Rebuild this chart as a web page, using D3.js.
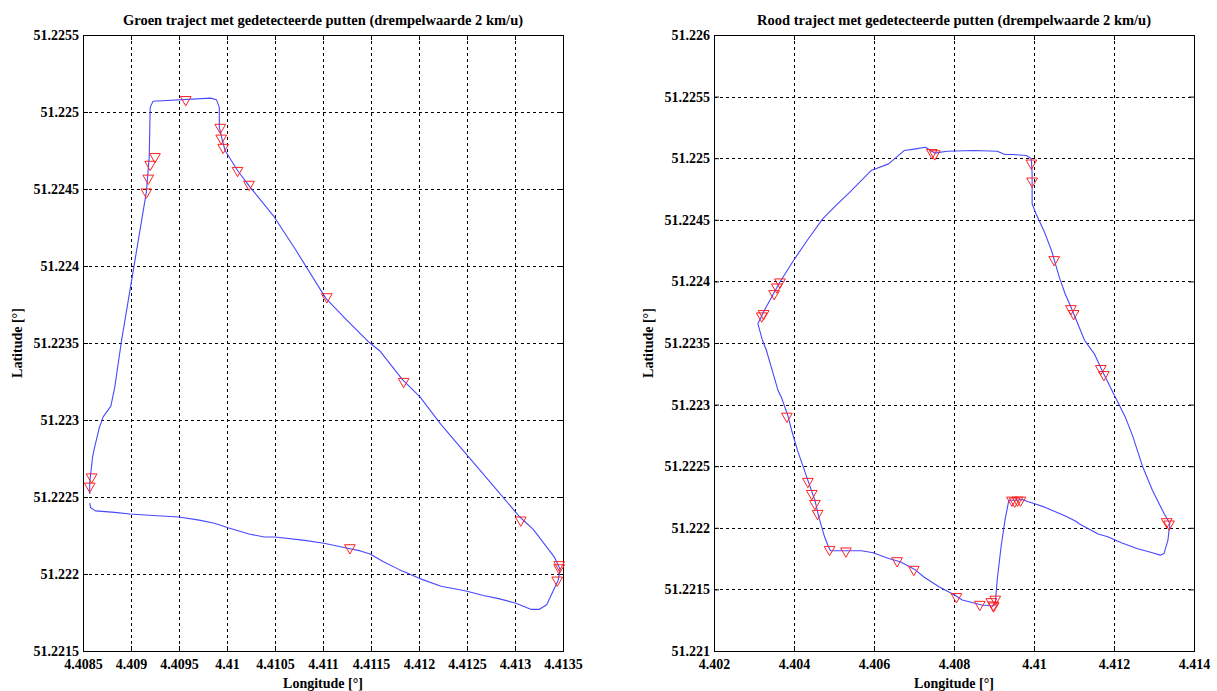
<!DOCTYPE html>
<html><head><meta charset="utf-8">
<script src="https://cdn.jsdelivr.net/npm/d3@7"></script>
<style>
html,body{margin:0;padding:0;background:#fff;}
svg{display:block;}
text{font-family:"Liberation Serif","Times New Roman",serif;font-weight:bold;fill:#000;}
</style></head>
<body>
<svg id="chart" width="1217" height="691"></svg>
<script>
// ---------- DATA ----------
const groenTitle = "Groen traject met gedetecteerde putten (drempelwaarde 2 km/u)";
const roodTitle = "Rood traject met gedetecteerde putten (drempelwaarde 2 km/u)";
const xLabel = "Longitude [°]";
const yLabel = "Latitude [°]";

const groenXTicks = [4.4085, 4.409, 4.4095, 4.41, 4.4105, 4.411, 4.4115, 4.412, 4.4125, 4.413, 4.4135];
const groenYTicks = [51.2215, 51.222, 51.2225, 51.223, 51.2235, 51.224, 51.2245, 51.225, 51.2255];
const roodXTicks = [4.402, 4.404, 4.406, 4.408, 4.41, 4.412, 4.414];
const roodYTicks = [51.221, 51.2215, 51.222, 51.2225, 51.223, 51.2235, 51.224, 51.2245, 51.225, 51.2255, 51.226];

const groenLon = [4.40857,4.40857,4.40858,4.40860,4.40862,4.40867,4.40871,4.40879,4.40883,4.40887,4.40890,4.40901,4.40916,4.40919,4.40920,4.40923,4.40983,4.40989,4.40992,4.40992,4.40995,4.40998,4.41011,4.41023,4.41049,4.41071,4.41103,4.41123,4.41147,4.41159,4.41183,4.41201,4.41223,4.41249,4.41275,4.41305,4.41319,4.41341,4.41347,4.41345,4.41339,4.41333,4.41325,4.41317,4.41301,4.41283,4.41267,4.41249,4.41223,4.41201,4.41179,4.41163,4.41149,4.41139,4.41123,4.41101,4.41079,4.41050,4.41039,4.41023,4.41001,4.40987,4.40971,4.40950,4.40923,4.40899,4.40883,4.40863,4.40858,4.40857];
const groenLat = [51.22252,51.22259,51.22265,51.22276,51.22282,51.22295,51.22302,51.22309,51.22321,51.22338,51.22351,51.22392,51.22448,51.22471,51.22503,51.22507,51.22509,51.22508,51.22503,51.22490,51.22482,51.22475,51.22462,51.22452,51.22432,51.22411,51.22379,51.22366,51.22351,51.22345,51.22326,51.22315,51.22297,51.22278,51.22259,51.22237,51.22229,51.22211,51.22203,51.22196,51.22188,51.22180,51.22177,51.22177,51.22181,51.22184,51.22186,51.22189,51.22192,51.22197,51.22203,51.22208,51.22213,51.22215,51.22217,51.22220,51.22222,51.22224,51.22224,51.22226,51.22230,51.22233,51.22235,51.22237,51.22238,51.22239,51.22240,51.22241,51.22243,51.22246];

const groenPitLon = [4.40957,4.40993,4.40994,4.40996,4.40925,4.40920,4.40918,4.40916,4.41011,4.41023,4.41104,4.41184,4.41306,4.41346,4.41346,4.41344,4.41128,4.40859,4.40857];
const groenPitLat = [51.22508,51.22490,51.22483,51.22477,51.22471,51.22466,51.22457,51.22448,51.22462,51.22453,51.22380,51.22325,51.22235,51.22206,51.22204,51.22196,51.22217,51.22263,51.22257];

const roodLon = [4.403096,4.403261,4.403649,4.403988,4.404328,4.404716,4.405007,4.405395,4.405928,4.406365,4.406753,4.407043,4.407286,4.407383,4.407528,4.407819,4.408498,4.409080,4.409274,4.409468,4.409808,4.409934,4.409953,4.409953,4.410050,4.410244,4.410438,4.410632,4.410778,4.410923,4.411263,4.411505,4.411699,4.411990,4.412281,4.412475,4.412717,4.412960,4.413251,4.413396,4.413348,4.413251,4.413154,4.412960,4.412572,4.412184,4.411844,4.411602,4.411117,4.411068,4.410826,4.410535,4.410244,4.410002,4.409856,4.409711,4.409565,4.409371,4.409274,4.409177,4.409080,4.409032,4.408983,4.408692,4.408547,4.408207,4.408013,4.407625,4.407237,4.407043,4.406656,4.406365,4.405977,4.405686,4.404910,4.404861,4.404764,4.404619,4.404522,4.404376,4.404231,4.404085,4.403940,4.403843,4.403697,4.403600,4.403552,4.403455,4.403309,4.403212,4.403096];
const roodLat = [51.223657,51.223765,51.223995,51.224170,51.224332,51.224508,51.224603,51.224724,51.224900,51.224954,51.225062,51.225076,51.225089,51.225068,51.225041,51.225057,51.225062,51.225057,51.225030,51.225030,51.225022,51.224995,51.224873,51.224630,51.224549,51.224414,51.224251,51.224035,51.223900,51.223792,51.223522,51.223414,51.223278,51.223089,51.222900,51.222738,51.222495,51.222305,51.222116,51.222035,51.221900,51.221792,51.221778,51.221797,51.221832,51.221878,51.221927,51.221949,51.222035,51.222049,51.222089,51.222130,51.222170,51.222197,51.222211,51.222230,51.222224,51.222224,51.222062,51.221846,51.221576,51.221386,51.221365,51.221373,51.221386,51.221414,51.221454,51.221522,51.221603,51.221657,51.221724,51.221751,51.221797,51.221814,51.221814,51.221846,51.221927,51.222089,51.222224,51.222359,51.222495,51.222630,51.222792,51.222914,51.223049,51.223116,51.223170,51.223278,51.223441,51.223522,51.223657];

const roodPitLon = [4.407450,4.407520,4.409934,4.409953,4.410506,4.410923,4.410991,4.403649,4.403571,4.403503,4.403241,4.403193,4.411670,4.411747,4.413319,4.413377,4.403823,4.404347,4.404444,4.404522,4.404590,4.404890,4.405298,4.406578,4.406995,4.408062,4.408644,4.408935,4.408983,4.409032,4.408990,4.409449,4.409517,4.409585,4.409662];
const roodPitLat = [51.225045,51.225035,51.224960,51.224814,51.224176,51.223778,51.223738,51.223995,51.223954,51.223900,51.223738,51.223719,51.223292,51.223243,51.222049,51.222030,51.222905,51.222376,51.222278,51.222197,51.222116,51.221824,51.221811,51.221732,51.221662,51.221441,51.221378,51.221400,51.221373,51.221420,51.221365,51.222224,51.222216,51.222224,51.222224];

// ---------- DRAW ----------
const svg = d3.select("#chart");
const top0 = 35, bot0 = 651;
const FS = 14;

function panel(opts){
  const {x0, x1, xDomain, yDomain, xTicks, yTicks, lon, lat, pLon, pLat, title} = opts;
  const x = d3.scaleLinear().domain(xDomain).range([x0, x1]);
  const y = d3.scaleLinear().domain(yDomain).range([bot0, top0]);
  const g = svg.append("g");

  // grid
  const inner = (v, arr) => v !== arr[0] && v !== arr[arr.length-1];
  g.append("g").selectAll("line").data(xTicks.filter(v=>inner(v,xTicks))).join("line")
    .attr("x1", d=>Math.round(x(d))+0.5).attr("x2", d=>Math.round(x(d))+0.5)
    .attr("y1", top0).attr("y2", bot0)
    .attr("stroke","#000").attr("stroke-width",1).attr("stroke-dasharray","3,3");
  g.append("g").selectAll("line").data(yTicks.filter(v=>inner(v,yTicks))).join("line")
    .attr("y1", d=>Math.round(y(d))+0.5).attr("y2", d=>Math.round(y(d))+0.5)
    .attr("x1", x0).attr("x2", x1)
    .attr("stroke","#000").attr("stroke-width",1).attr("stroke-dasharray","3,3");

  // axes
  const fmt = d => String(+d.toFixed(6));
  const ax = g.append("g").attr("transform",`translate(0,${bot0})`)
    .call(d3.axisBottom(x).tickValues(xTicks).tickFormat(fmt).tickSizeInner(-5).tickSizeOuter(0).tickPadding(8));
  const axT = g.append("g").attr("transform",`translate(0,${top0})`)
    .call(d3.axisTop(x).tickValues(xTicks).tickFormat("").tickSizeInner(-5).tickSizeOuter(0));
  const ay = g.append("g").attr("transform",`translate(${x0},0)`)
    .call(d3.axisLeft(y).tickValues(yTicks).tickFormat(fmt).tickSizeInner(-5).tickSizeOuter(0).tickPadding(4));
  const ayR = g.append("g").attr("transform",`translate(${x1},0)`)
    .call(d3.axisRight(y).tickValues(yTicks).tickFormat("").tickSizeInner(-5).tickSizeOuter(0));
  [ax, axT, ay, ayR].forEach(a => { a.select(".domain").remove(); a.selectAll("line").attr("stroke","#000"); });
  [ax, ay].forEach(a => a.selectAll("text").attr("font-size",FS).attr("font-family",'"Liberation Serif",serif')
    .attr("font-weight","bold").attr("fill","#000"));

  // frame
  g.append("rect").attr("x", x0+0.5).attr("y", top0+0.5).attr("width", x1-x0).attr("height", bot0-top0)
    .attr("fill","none").attr("stroke","#000").attr("stroke-width",1);

  // track
  const pts = lon.map((d,i)=>[d, lat[i]]);
  g.append("path").datum(pts)
    .attr("d", d3.line().x(d=>x(d[0])).y(d=>y(d[1])))
    .attr("fill","none").attr("stroke","#4848ff").attr("stroke-width",1.1).attr("stroke-linejoin","round");

  // pits: downward triangles
  const sym = d3.symbol().type(d3.symbolTriangle).size(50);
  g.append("g").selectAll("path").data(pLon.map((d,i)=>[d,pLat[i]])).join("path")
    .attr("d", sym)
    .attr("transform", d=>`translate(${x(d[0])},${y(d[1])}) rotate(180)`)
    .attr("fill","none").attr("stroke","#ff2020").attr("stroke-width",1);

  // labels
  g.append("text").attr("x",(x0+x1)/2).attr("y",25).attr("text-anchor","middle").attr("font-size",14.5).text(title);
  g.append("text").attr("x",(x0+x1)/2).attr("y",688).attr("text-anchor","middle").attr("font-size",FS).text(xLabel);
  g.append("text").attr("transform",`translate(${x0-61},${(top0+bot0)/2}) rotate(-90)`).attr("text-anchor","middle").attr("font-size",FS).text(yLabel);
}

panel({x0:83, x1:563, xDomain:[4.4085,4.4135], yDomain:[51.2215,51.2255], xTicks:groenXTicks, yTicks:groenYTicks,
  lon:groenLon, lat:groenLat, pLon:groenPitLon, pLat:groenPitLat, title:groenTitle});
panel({x0:714, x1:1194, xDomain:[4.402,4.414], yDomain:[51.221,51.226], xTicks:roodXTicks, yTicks:roodYTicks,
  lon:roodLon, lat:roodLat, pLon:roodPitLon, pLat:roodPitLat, title:roodTitle});
</script>
</body></html>
